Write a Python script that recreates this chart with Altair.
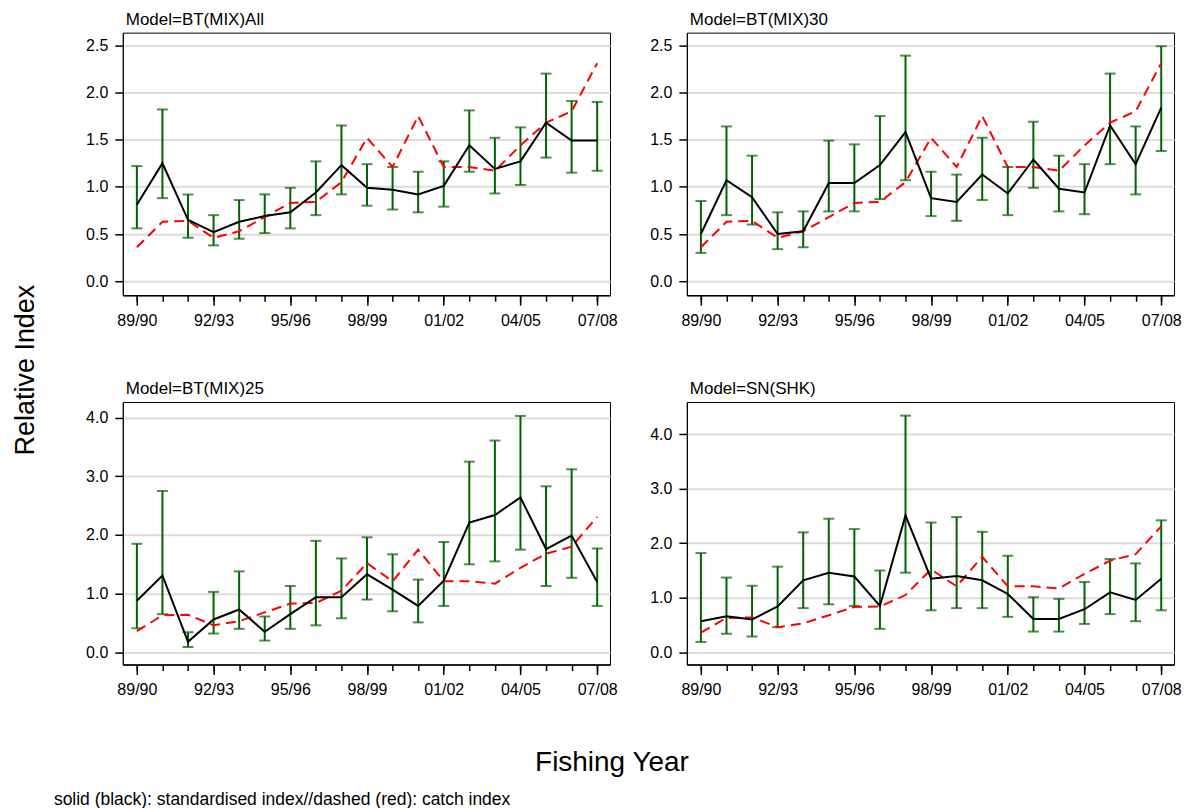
import altair as alt
import pandas as pd

FONT = "Liberation Sans"
GREEN = "#006400"

# Fishing years on the x axis
years = ["89/90", "90/91", "91/92", "92/93", "93/94", "94/95", "95/96", "96/97",
         "97/98", "98/99", "99/00", "00/01", "01/02", "02/03", "03/04", "04/05",
         "05/06", "06/07", "07/08"]

# Catch index (dashed red), common to every panel
catch_index = [0.36, 0.63, 0.64, 0.46, 0.53, 0.68, 0.83, 0.84, 1.05, 1.52,
               1.21, 1.75, 1.21, 1.21, 1.17, 1.44, 1.68, 1.80, 2.31]

# Model=BT(MIX)All
bt_all_index = [0.81, 1.25, 0.65, 0.52, 0.63, 0.69, 0.73, 0.94, 1.23, 0.99,
                0.97, 0.92, 1.01, 1.44, 1.19, 1.27, 1.68, 1.49, 1.49]
bt_all_upper = [1.22, 1.82, 0.92, 0.70, 0.86, 0.92, 0.99, 1.27, 1.65, 1.24,
                1.21, 1.16, 1.27, 1.81, 1.52, 1.63, 2.20, 1.91, 1.90]
bt_all_lower = [0.56, 0.88, 0.46, 0.38, 0.45, 0.51, 0.56, 0.70, 0.92, 0.80,
                0.76, 0.73, 0.79, 1.16, 0.93, 1.02, 1.31, 1.15, 1.17]

# Model=BT(MIX)30
bt30_index = [0.50, 1.07, 0.89, 0.50, 0.53, 1.04, 1.04, 1.23, 1.58, 0.88,
              0.84, 1.13, 0.93, 1.29, 0.98, 0.94, 1.65, 1.24, 1.84]
bt30_upper = [0.85, 1.64, 1.33, 0.73, 0.74, 1.49, 1.45, 1.75, 2.39, 1.16,
              1.13, 1.52, 1.21, 1.69, 1.33, 1.24, 2.20, 1.64, 2.49]
bt30_lower = [0.30, 0.70, 0.60, 0.34, 0.36, 0.74, 0.74, 0.87, 1.07, 0.69,
              0.64, 0.86, 0.70, 0.99, 0.74, 0.71, 1.24, 0.92, 1.38]

# Model=BT(MIX)25
bt25_index = [0.88, 1.31, 0.18, 0.56, 0.73, 0.35, 0.65, 0.94, 0.94, 1.33,
              1.07, 0.79, 1.22, 2.21, 2.34, 2.64, 1.76, 1.99, 1.20]
bt25_upper = [1.85, 2.75, 0.34, 1.03, 1.38, 0.61, 1.13, 1.90, 1.60, 1.96,
              1.67, 1.24, 1.88, 3.25, 3.61, 4.03, 2.83, 3.12, 1.77]
bt25_lower = [0.41, 0.65, 0.09, 0.32, 0.40, 0.20, 0.40, 0.46, 0.58, 0.90,
              0.70, 0.51, 0.79, 1.50, 1.55, 1.75, 1.13, 1.27, 0.79]

# Model=SN(SHK)
sn_index = [0.57, 0.66, 0.60, 0.84, 1.32, 1.46, 1.39, 0.85, 2.51, 1.35,
            1.40, 1.32, 1.07, 0.61, 0.61, 0.79, 1.10, 0.96, 1.35]
sn_upper = [1.82, 1.37, 1.22, 1.57, 2.20, 2.45, 2.26, 1.50, 4.34, 2.38,
            2.48, 2.21, 1.77, 1.01, 0.98, 1.29, 1.71, 1.63, 2.42]
sn_lower = [0.19, 0.34, 0.29, 0.46, 0.81, 0.88, 0.85, 0.43, 1.46, 0.77,
            0.81, 0.81, 0.65, 0.38, 0.38, 0.52, 0.70, 0.57, 0.77]

small_ticks = [0.0, 0.5, 1.0, 1.5, 2.0, 2.5]
large_ticks = [0.0, 1.0, 2.0, 3.0, 4.0]

X_DOMAIN = [-0.55, 18.5]
MAJOR = list(range(0, len(years), 3))
LABEL_EXPR = "[" + ",".join("'%s'" % y for y in years) + "][datum.value]"
PANEL_W, PANEL_H = 488, 263


def text_label(text, x, y, size, angle=0, align="center", baseline="alphabetic"):
    return alt.Chart(pd.DataFrame({"label": [text]})).mark_text(
        font=FONT, fontSize=size, angle=angle, align=align,
        baseline=baseline, color="black"
    ).encode(x=alt.value(x), y=alt.value(y), text="label:N")


def make_panel(title, idx, upper, lower, y_domain, y_ticks, extra=()):
    df = pd.DataFrame({
        "i": list(range(len(years))),
        "year": years,
        "index": idx,
        "upper": upper,
        "lower": lower,
        "catch": catch_index,
    })
    xs = alt.Scale(domain=X_DOMAIN, nice=False, zero=False)
    ys = alt.Scale(domain=y_domain, nice=False, zero=False)
    base = alt.Chart(df)

    minor_axis = alt.Axis(values=list(range(len(years))), labels=False, tickSize=6,
                          tickColor="black", tickWidth=1.5, domain=False,
                          grid=False, orient="bottom", title=None)
    major_axis = alt.Axis(values=MAJOR, labelExpr=LABEL_EXPR, tickSize=10,
                          tickColor="black", tickWidth=1.5, labelPadding=7,
                          labelFont=FONT, labelFontSize=16, labelColor="black",
                          domain=True, domainColor="black", domainWidth=1.5,
                          grid=False, orient="bottom", title=None)
    y_axis = alt.Axis(values=y_ticks, format=".1f", tickSize=8, tickColor="black",
                      tickWidth=1.5, labelPadding=7, labelFont=FONT,
                      labelFontSize=16, labelColor="black", domain=True,
                      domainColor="black", domainWidth=1, grid=True,
                      gridColor="#dcdcdc", gridWidth=2, title=None,
                      orient="left")

    bars = base.mark_rule(color=GREEN, strokeWidth=2).encode(
        x=alt.X("i:Q", scale=xs, axis=minor_axis),
        y=alt.Y("lower:Q", scale=ys, axis=y_axis),
        y2="upper:Q",
    )
    cap_hi = base.mark_tick(color=GREEN, orient="horizontal", size=11, thickness=2).encode(
        x=alt.X("i:Q", scale=xs, axis=None),
        y=alt.Y("upper:Q", scale=ys, axis=None),
    )
    cap_lo = base.mark_tick(color=GREEN, orient="horizontal", size=11, thickness=2).encode(
        x=alt.X("i:Q", scale=xs, axis=None),
        y=alt.Y("lower:Q", scale=ys, axis=None),
    )
    catch = base.mark_line(color="#ff0000", strokeWidth=2, strokeDash=[10, 6]).encode(
        x=alt.X("i:Q", scale=xs, axis=None),
        y=alt.Y("catch:Q", scale=ys, axis=None),
    )
    std = base.mark_line(color="black", strokeWidth=2).encode(
        x=alt.X("i:Q", scale=xs, axis=major_axis),
        y=alt.Y("index:Q", scale=ys, axis=None),
    )
    heading = text_label(title, 3, -8, 17, align="left")

    return alt.layer(bars, cap_hi, cap_lo, catch, std, heading, *extra).resolve_axis(
        x="independent", y="independent"
    ).properties(width=PANEL_W, height=PANEL_H)


# Shared titles and footnote, placed relative to the lower-left panel
shared_text = [
    text_label("Relative Index", -97, -32, 27, angle=270, baseline="middle"),
    text_label("Fishing Year", 490, 370, 28),
    text_label("solid (black): standardised index//dashed (red): catch index",
               -69, 404, 17.5, align="left"),
]

p1 = make_panel("Model=BT(MIX)All", bt_all_index, bt_all_upper, bt_all_lower,
                [-0.148, 2.634], small_ticks)
p2 = make_panel("Model=BT(MIX)30", bt30_index, bt30_upper, bt30_lower,
                [-0.148, 2.634], small_ticks)
p3 = make_panel("Model=BT(MIX)25", bt25_index, bt25_upper, bt25_lower,
                [-0.209, 4.267], large_ticks, extra=shared_text)
p4 = make_panel("Model=SN(SHK)", sn_index, sn_upper, sn_lower,
                [-0.225, 4.59], large_ticks)

chart = alt.concat(
    p1, p2, p3, p4,
    columns=2,
    spacing={"row": 107, "column": 77},
    bounds="flush",
).properties(
    padding={"left": 11, "top": 9, "right": 5, "bottom": 0},
    background="white",
).configure_view(
    stroke="black", strokeWidth=1
)

chart.save("out.html", embed_options={"renderer": "svg", "actions": False})
